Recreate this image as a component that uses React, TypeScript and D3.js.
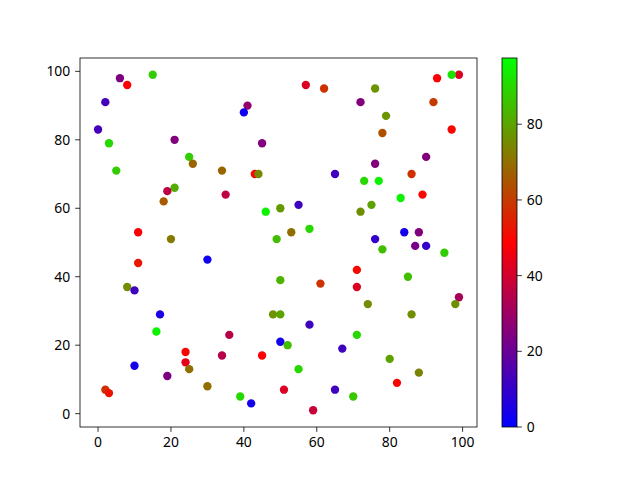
import React from "react";
import * as d3 from "d3";

const xs = [6,8,15,2,0,3,21,25,26,5, 57,62,41,40,45,34,43,44,65, 93,99,97,76,72,92,79,78,97,90,76,86,73,77, 21,19,18,11,20,30,11,8,10, 35,46,50,55,58,53,49,50,61, 89,83,75,72,84,88,76,87,90,78,95,71,85,71,99,74,98, 17,16,24,24,25,10,19,30,2,3, 48,50,58,36,50,52,67,34,45,55,39,42,51,65,59, 86,71,80,88,82,70];
const ys = [98,96,99,91,83,79,80,75,73,71, 96,95,90,88,79,71,70,70,70, 98,99,99,95,91,91,87,82,83,75,73,70,68,68, 66,65,62,53,51,45,44,37,36, 64,59,60,61,54,53,51,39,38, 64,63,61,59,53,53,51,49,49,48,47,42,40,37,34,32,32, 29,24,18,15,13,14,11,8,7,6, 29,29,26,23,21,20,19,17,17,13,5,3,7,7,1, 29,23,16,12,9,5];
const cs = [24,48,88,13,13,90,25,88,68,88, 42,58,28,3,25,68,50,75,12, 48,42,92,77,25,60,77,64,50,25,25,58,90,95, 82,36,66,48,72,3,53,76,12, 36,95,78,12,90,70,85,83,58, 50,95,80,76,4,25,10,23,10,85,88,50,85,42,32,76,76, 5,95,50,44,70,4,24,70,58,52, 77,80,12,35,4,85,12,35,48,90,90,4,42,12,38, 76,90,80,74,50,87];

const xTicks = [0, 20, 40, 60, 80, 100];
const yTicks = [0, 20, 40, 60, 80, 100];
const cTicks = [0, 20, 40, 60, 80];
const cMin = 0;
const cMax = 97.5;

function brg(t: number): string {
  t = Math.max(0, Math.min(1, t));
  let r, g, b;
  if (t < 0.5) {
    r = 2 * t; g = 0; b = 1 - 2 * t;
  } else {
    r = 2 * (1 - t); g = 2 * t - 1; b = 0;
  }
  return d3.rgb(r * 255, g * 255, b * 255).formatHex();
}

export default function App() {
  const W = 640, H = 480;
  const L = 80, R = 477, T = 58, B = 427;
  const x = d3.scaleLinear().domain([-4.95, 103.95]).range([L, R]);
  const y = d3.scaleLinear().domain([-3.9, 103.9]).range([B, T]);
  const cbL = 502, cbR = 517;
  const cy = d3.scaleLinear().domain([cMin, cMax]).range([B, T]);
  const font = "'Noto Sans', 'DejaVu Sans', sans-serif";
  const fs = 13.9;
  const tick = 4.86;
  const stops = d3.range(0, 1.0001, 0.05);
  return (
    <svg width={W} height={H} style={{ position: "absolute", left: 0, top: 0 }}>
      <defs>
        <linearGradient id="cb" x1="0" y1="1" x2="0" y2="0">
          {stops.map((s, i) => (
            <stop key={i} offset={s} stopColor={brg(s)} />
          ))}
        </linearGradient>
      </defs>
      <rect width={W} height={H} fill="white" />
      {xs.map((xv, i) => (
        <circle key={i} cx={x(xv)} cy={y(ys[i])} r={4.17} fill={brg((cs[i] - cMin) / (cMax - cMin))} />
      ))}
      <rect x={L} y={T} width={R - L} height={B - T} fill="none" stroke="black" strokeWidth={0.8} />
      {xTicks.map((t) => (
        <g key={"x" + t}>
          <line x1={x(t)} x2={x(t)} y1={B} y2={B + tick} stroke="black" strokeWidth={0.8} />
          <text x={x(t)} y={B + tick + 4.86 + fs * 0.76} textAnchor="middle" fontFamily={font} fontSize={fs}>{t}</text>
        </g>
      ))}
      {yTicks.map((t) => (
        <g key={"y" + t}>
          <line x1={L - tick} x2={L} y1={y(t)} y2={y(t)} stroke="black" strokeWidth={0.8} />
          <text x={L - tick - 4.86} y={y(t)} dy="0.36em" textAnchor="end" fontFamily={font} fontSize={fs}>{t}</text>
        </g>
      ))}
      <rect x={cbL} y={T} width={cbR - cbL} height={B - T} fill="url(#cb)" />
      <rect x={cbL} y={T} width={cbR - cbL} height={B - T} fill="none" stroke="black" strokeWidth={0.8} />
      {cTicks.map((t) => (
        <g key={"c" + t}>
          <line x1={cbR} x2={cbR + tick} y1={cy(t)} y2={cy(t)} stroke="black" strokeWidth={0.8} />
          <text x={cbR + tick + 4.86} y={cy(t)} dy="0.36em" textAnchor="start" fontFamily={font} fontSize={fs}>{t}</text>
        </g>
      ))}
    </svg>
  );
}
